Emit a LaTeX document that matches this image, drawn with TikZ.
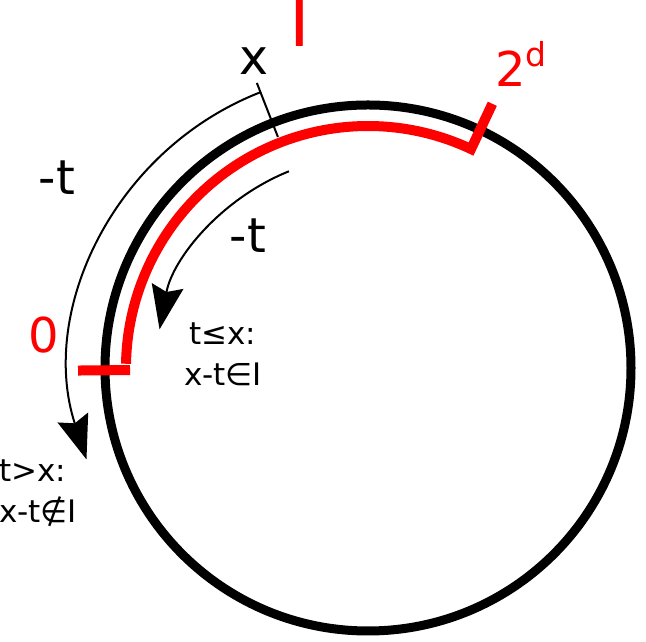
\documentclass[tikz,border=0pt]{standalone}
\usepackage{fontspec}
\setmainfont{DejaVu Sans}
\usetikzlibrary{arrows.meta,calc}
\begin{document}
\begin{tikzpicture}[x=1pt,y=1pt,
  lbl/.style={inner sep=0pt, outer sep=0pt},
  bigtext/.style={lbl, font=\fontsize{48}{48}\selectfont},
  smalltext/.style={lbl, font=\fontsize{31}{31}\selectfont},
  redline/.style={draw=red, line width=10pt},
  thinline/.style={line width=2pt},
  head/.style={-{Stealth[length=44pt,width=32pt,inset=6pt]}}]
\useasboundingbox (0,0) rectangle (646,642);
\coordinate (c) at (368,274);
% circle
\draw[line width=9pt] (c) circle[radius=263pt];
% red interval
\coordinate (r1) at ($(c)+(64.8:292)$);
\coordinate (r2) at ($(c)+(64.8:242)$);
\draw[redline, line join=miter] (r1) -- (r2) arc[start angle=64.8, end angle=179, radius=242pt];
\coordinate (l1) at ($(c)+(180.5:238)$);
\coordinate (l2) at ($(c)+(180.5:290)$);
\draw[redline] (l1) -- (l2);
% x tick
\coordinate (x1) at ($(c)+(111.3:248)$);
\coordinate (x2) at ($(c)+(111.3:306)$);
\draw[thinline] (x1) -- (x2);
% outer arrow
\coordinate (o1) at ($(c)+(111.3:296)$);
\draw[thinline, head] (o1) arc[start angle=111.3, end angle=198, radius=296pt];
% inner arrow
\coordinate (i1) at ($(c)+(111.9:212)$);
\draw[thinline, head] (i1) arc[start angle=111.9, end angle=169.5, radius=212pt];
% labels
\node[lbl, anchor=base, text=red, font=\fontsize{70}{70}\selectfont] (Ilbl) at (300,595) {I};
\node[lbl, anchor=base, font=\fontsize{49}{49}\selectfont] (xlbl) at (254,567) {x};
\node[bigtext, anchor=base] (tout) at (57,447) {-t};
\node[bigtext, anchor=base] (tin) at (248,389) {-t};
\node[bigtext, anchor=base west, text=red] (two) at (495,555) {2\raisebox{20pt}{\fontsize{33}{33}\selectfont d}};
\node[bigtext, anchor=base, text=red] (zero) at (44,289) {0};
\node[smalltext, anchor=base west] (le1) at (189,297) {t≤x:};
\node[smalltext, anchor=base west] (le2) at (184,256) {x-t∈I};
\node[smalltext, anchor=base west] (gt1) at (-1,160) {t>x:};
\node[smalltext, anchor=base west] (gt2) at (-1,119) {x-t∉I};
\end{tikzpicture}
\end{document}
